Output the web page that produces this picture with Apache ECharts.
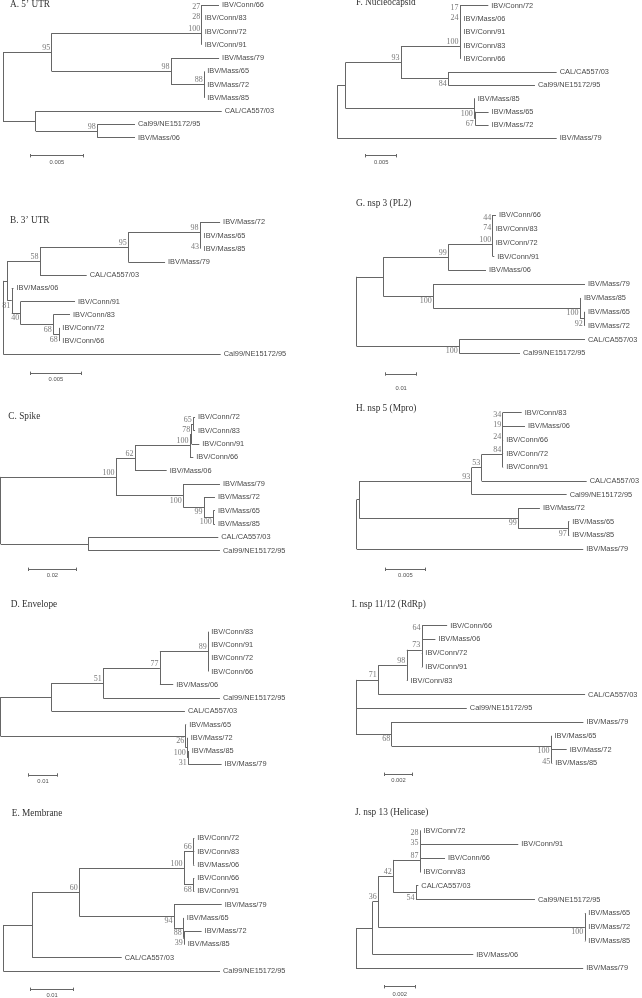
<!DOCTYPE html>
<html><head><meta charset="utf-8">
<script src="https://cdn.jsdelivr.net/npm/echarts@6/dist/echarts.min.js"></script>
<style>html,body{margin:0;padding:0;background:#fff}#c{width:642px;height:998px}</style>
</head><body><div id="c"></div>
<script>
// ---- data ----
const panelTitles = ["A. 5\u2019 UTR", "B. 3\u2019 UTR", "C. Spike", "D. Envelope", "E. Membrane",
  "F. Nucleocapsid", "G. nsp 3 (PL2)", "H. nsp 5 (Mpro)", "I. nsp 11/12 (RdRp)", "J. nsp 13 (Helicase)"];
const scaleBarValues = [0.005, 0.005, 0.02, 0.01, 0.01, 0.005, 0.01, 0.005, 0.002, 0.002];
// trees in Newick: branch lengths (substitutions/site), internal labels = bootstrap values
const treeA = "(((((IBV/Conn/66:0.00165,IBV/Conn/83:0)27:0,IBV/Conn/72:0)28:0,IBV/Conn/91:0)100:0.01434,(IBV/Mass/79:0.00459,(IBV/Mass/65:0,IBV/Mass/72:0,IBV/Mass/85:0)88:0.00316)98:0.01141)95:0.00466,(CAL/CA557/03:0.01778,(Cal99/NE15172/95:0.0036,IBV/Mass/06:0.0036)98:0.00589):0.00313);";
const treeB = "(((((IBV/Mass/72:0.00199,(IBV/Mass/65:0,IBV/Mass/85:0)43:0.00005)98:0.00713,IBV/Mass/79:0.00365)95:0.00878,CAL/CA557/03:0.00464)58:0.00325,(IBV/Mass/06:0.00017,(IBV/Conn/91:0.0054,(IBV/Conn/83:0.00166,(IBV/Conn/72:0,IBV/Conn/66:0)68:0.0006)68:0.00324)40:0.00089)81:0.00044):0.0004,Cal99/NE15172/95:0.02161);";
const treeC = "((((((IBV/Conn/72:0.0007,IBV/Conn/83:0.0007)65:0.0007,IBV/Conn/91:0.00315)78:0.0007,IBV/Conn/66:0.00137)100:0.02277,IBV/Mass/06:0.01312)62:0.00787,(IBV/Mass/79:0.01519,(IBV/Mass/72:0.00455,(IBV/Mass/65:0.0007,IBV/Mass/85:0.0007)100:0.00385)99:0.00857)100:0.02786)100:0.04774,(CAL/CA557/03:0.05382,Cal99/NE15172/95:0.05452):0.03627);";
const treeD = "(((((IBV/Conn/83:0,IBV/Conn/91:0,IBV/Conn/72:0,IBV/Conn/66:0)89:0.01642,IBV/Mass/06:0.00452)77:0.01928,Cal99/NE15172/95:0.03968)51:0.01754,CAL/CA557/03:0.04532):0.01741,(IBV/Mass/65:0.00017,(IBV/Mass/72:0.00017,(IBV/Mass/85:0.00017,IBV/Mass/79:0.01136)31:0.00034)100:0.00054)26:0.06297);";
const treeE = "(((((IBV/Conn/72:0.00023,IBV/Conn/83:0.00023,IBV/Mass/06:0.00023)66:0.00218,(IBV/Conn/66:0.00023,IBV/Conn/91:0.00023)68:0.00218)100:0.02452,(IBV/Mass/79:0.01117,(IBV/Mass/65:0.00012,(IBV/Mass/72:0.00405,IBV/Mass/85:0.00012)39:0.00023)88:0.00218)94:0.02218)60:0.01101,CAL/CA557/03:0.02094):0.00679,Cal99/NE15172/95:0.05075);";
const treeF = "(((((((IBV/Conn/72:0.00456,IBV/Mass/06:0.00008)17:0,IBV/Conn/91:0.00008)24:0,IBV/Conn/83:0.00008):0,IBV/Conn/66:0.00008)100:0.00952,(CAL/CA557/03:0.01748,Cal99/NE15172/95:0.01398)84:0.00763)93:0.00892,(IBV/Mass/85:0.00008,(IBV/Mass/65:0.00215,IBV/Mass/72:0.00215)67:0.00016)100:0.02074):0.00135,IBV/Mass/79:0.03539);";
const treeG = "((((((IBV/Conn/66:0.00106,IBV/Conn/83:0)44:0,IBV/Conn/72:0)74:0,IBV/Conn/91:0.00052)100:0.01432,IBV/Mass/06:0.01216)99:0.02097,(IBV/Mass/79:0.04894,(IBV/Mass/85:0.00032,(IBV/Mass/65:0.00023,IBV/Mass/72:0.00023)92:0.00139)100:0.04733)100:0.01613):0.00858,(CAL/CA557/03:0.04055,Cal99/NE15172/95:0.01958)100:0.0331);";
const treeH = "((((((((IBV/Conn/83:0.00242,IBV/Mass/06:0.00284)34:0,IBV/Conn/66:0.00006)19:0,IBV/Conn/72:0.00006)24:0,IBV/Conn/91:0.00006)84:0.00267,CAL/CA557/03:0.01336)53:0.00127,Cal99/NE15172/95:0.01208)93:0.0143,(IBV/Mass/72:0.00276,(IBV/Mass/65:0.00013,IBV/Mass/85:0.00013)97:0.00636)99:0.02022):0.00033,IBV/Mass/79:0.02882);";
const treeI = "(((((IBV/Conn/66:0.00177,IBV/Mass/06:0.00094)64:0.00002,IBV/Conn/72:0.00004,IBV/Conn/91:0.00004)73:0.00106,IBV/Conn/83:0.00005)98:0.00201,CAL/CA557/03:0.01461)71:0.00158,Cal99/NE15172/95:0.00783,(IBV/Mass/79:0.01355,(IBV/Mass/65:0.00004,(IBV/Mass/72:0.00106,IBV/Mass/85:0.00004)45:0.00005)100:0.01126)68:0.00252);";
const treeJ = "(((((((IBV/Conn/72:0.00003,IBV/Conn/91:0.0064)28:0,IBV/Conn/66:0.00163)35:0,IBV/Conn/83:0.00003)87:0.00174,(CAL/CA557/03:0.00015,Cal99/NE15172/95:0.00775)54:0.00148)42:0.00098,(IBV/Mass/65:0.00003,IBV/Mass/72:0.00003,IBV/Mass/85:0.00003)100:0.01346)36:0.00036,IBV/Mass/06:0.00655):0.00109,IBV/Mass/79:0.0148);";
const trees = [treeA, treeB, treeC, treeD, treeE, treeF, treeG, treeH, treeI, treeJ];

// ---- layout (pixel placement of each panel) ----
const layouts = [
  {rootX:3,     firstY:5,     gap:13.27, barPx:52.3, barX:30.7,  barY:155.7, capDy:6.8, tx:10,    ty:6,     mode:'above'},
  {rootX:3.3,   firstY:222.3, gap:13.2,  barPx:50.3, barX:30.7,  barY:373.3, capDy:6.5, tx:10,    ty:221.7, mode:'auto'},
  {rootX:0.7,   firstY:417.3, gap:13.34, barPx:48.3, barX:28.3,  barY:569.3, capDy:6,   tx:8.3,   ty:417.3, mode:'auto'},
  {rootX:0.5,   firstY:631.7, gap:13.26, barPx:29.4, barX:28.3,  barY:775,   capDy:6.7, tx:10.7,  ty:605.7, mode:'auto'},
  {rootX:3.3,   firstY:838.3, gap:13.27, barPx:42.7, barX:30.7,  barY:989.3, capDy:6.5, tx:11.7,  ty:814.3, mode:'auto'},
  {rootX:337.3, firstY:5.7,   gap:13.26, barPx:31,   barX:365.7, barY:155.7, capDy:7,   tx:356,   ty:4,     mode:'auto'},
  {rootX:356.7, firstY:215,   gap:13.83, barPx:31,   barX:385.7, barY:374,   capDy:14,  tx:356,   ty:204.5, mode:'auto'},
  {rootX:356.7, firstY:412.7, gap:13.63, barPx:39.3, barX:385.7, barY:569.3, capDy:6,   tx:356,   ty:409.3, mode:'auto'},
  {rootX:356,   firstY:625.7, gap:13.76, barPx:28.3, barX:384.3, barY:774.3, capDy:6.5, tx:351.7, ty:605.7, mode:'auto'},
  {rootX:356,   firstY:830.7, gap:13.76, barPx:30.7, barX:384.3, barY:986.7, capDy:7.5, tx:355,   ty:814,   mode:'auto'}
];

function parseNewick(str) {
  const s = str.replace(/\s+/g, '');
  let i = 0;
  function node() {
    const n = {children: [], name: '', len: 0};
    if (s[i] === '(') {
      i++;
      while (true) {
        n.children.push(node());
        if (s[i] === ',') { i++; continue; }
        if (s[i] === ')') { i++; break; }
        break;
      }
    }
    let name = '';
    while (i < s.length && !',():;'.includes(s[i])) name += s[i++];
    n.name = name;
    if (s[i] === ':') {
      i++;
      let num = '';
      while (i < s.length && !',();'.includes(s[i])) num += s[i++];
      n.len = parseFloat(num);
    }
    return n;
  }
  return node();
}

function buildTree(root, mode) {
  let leafIdx = 0;
  const segs = [], leaves = [], boots = [];
  function walk(n, x, parent) {
    n.x = x; n.parent = parent;
    if (!n.children.length) { n.y = leafIdx++; leaves.push(n); return; }
    n.children.forEach(c => walk(c, x + c.len, n));
    const first = n.children[0], last = n.children[n.children.length - 1];
    n.y = (first.y + last.y) / 2;
    segs.push([[x, first.y], [x, last.y]]);
    n.children.forEach(c => { if (c.x > x) segs.push([[x, c.y], [c.x, c.y]]); });
    if (n.name && parent) {
      const isLast = parent.children[parent.children.length - 1] === n;
      boots.push({x: n.x, y: n.y, text: n.name, below: mode === 'auto' && isLast});
    }
  }
  walk(root, 0, null);
  return {segs, leaves, boots};
}

const GW = 250;
const grids = [], xAxes = [], yAxes = [], series = [], titles = [];
trees.forEach((nw, k) => {
  const L = layouts[k], scale = scaleBarValues[k];
  const t = buildTree(parseNewick(nw), L.mode);
  const n = t.leaves.length;
  const u = scale / L.barPx; // units per pixel
  grids.push({left: L.rootX, top: L.firstY, width: GW, height: (n - 1) * L.gap});
  xAxes.push({type: 'value', gridIndex: k, min: 0, max: GW * u, show: false});
  yAxes.push({type: 'value', gridIndex: k, min: 0, max: n - 1, inverse: true, show: false});
  const bx = (L.barX - L.rootX) * u, by = (L.barY - L.firstY) / L.gap, tk = 1.7 / L.gap;
  const barSegs = [[[bx, by], [bx + scale, by]], [[bx, by - tk], [bx, by + tk]], [[bx + scale, by - tk], [bx + scale, by + tk]]];
  series.push({
    type: 'lines', coordinateSystem: 'cartesian2d', xAxisIndex: k, yAxisIndex: k,
    clip: false, silent: true, animation: false,
    lineStyle: {color: '#666', width: 1, opacity: 1, curveness: 0},
    data: t.segs.concat(barSegs).map(c => ({coords: c}))
  });
  series.push({
    type: 'scatter', xAxisIndex: k, yAxisIndex: k, clip: false, silent: true, symbolSize: 0,
    data: t.leaves.map(l => ({value: [l.x, l.y], name: l.name})),
    label: {show: true, position: 'right', distance: 3, formatter: '{b}',
      fontFamily: 'Liberation Sans', fontSize: 7.4, color: '#111'}
  });
  series.push({
    type: 'scatter', xAxisIndex: k, yAxisIndex: k, clip: false, silent: true, symbolSize: 0,
    data: t.boots.map(b => ({value: [b.x, b.y], name: b.text, label: {offset: [0, b.below ? 5 : -4.5]}})),
    label: {show: true, position: 'left', distance: 1.5, formatter: '{b}',
      fontFamily: 'Liberation Serif', fontSize: 8, color: '#555'}
  });
  series.push({
    type: 'scatter', xAxisIndex: k, yAxisIndex: k, clip: false, silent: true, symbolSize: 0,
    data: [{value: [bx + scale / 2, by], name: String(scale)}],
    label: {show: true, position: 'inside', offset: [0, L.capDy], formatter: '{b}',
      fontFamily: 'Liberation Sans', fontSize: 5.8, color: '#222'}
  });
  titles.push({text: panelTitles[k], left: L.tx, top: L.ty - 5.5, padding: 0,
    textStyle: {fontFamily: 'Liberation Serif', fontSize: 9.3, fontWeight: 'normal', color: '#333'}});
});

const chart = echarts.init(document.getElementById('c'), null, {renderer: 'canvas'});
chart.setOption({
  animation: false, backgroundColor: '#fff',
  title: titles, grid: grids, xAxis: xAxes, yAxis: yAxes, series: series
});
</script>
</body></html>
